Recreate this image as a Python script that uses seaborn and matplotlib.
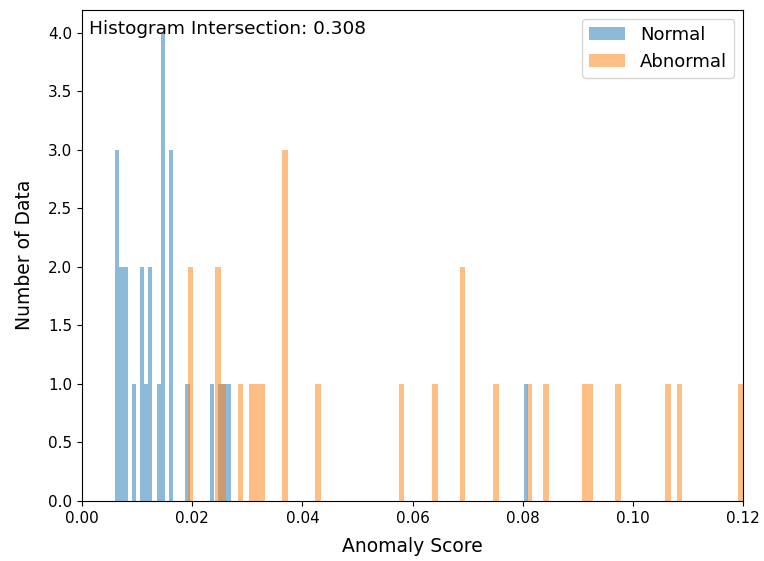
import matplotlib
matplotlib.use("Agg")
import matplotlib.pyplot as plt
import seaborn as sns

# Anomaly scores for the two classes
normal_scores = [
    0.00605, 0.00631, 0.00662, 0.00709, 0.00728, 0.00781, 0.00802, 0.00941,
    0.01079, 0.01101, 0.01166, 0.01232, 0.01251, 0.01390, 0.01447, 0.01462,
    0.01475, 0.01489, 0.01598, 0.01614, 0.01630, 0.01915, 0.02364, 0.02513,
    0.02588, 0.02663, 0.08089,
]
abnormal_scores = [
    0.01916, 0.01973, 0.02448, 0.02492, 0.02571, 0.02874, 0.03076, 0.03176,
    0.03277, 0.03645, 0.03681, 0.03712, 0.04286, 0.05798, 0.06403, 0.06884,
    0.06931, 0.07513, 0.08118, 0.08420, 0.09126, 0.09227, 0.09731, 0.10639,
    0.10840, 0.12000,
]
class_labels = ["Normal", "Abnormal"]
intersection = 0.308

fig, ax = plt.subplots(figsize=(7.64, 5.61), dpi=100)
fig.subplots_adjust(left=0.1073, right=0.9729, top=0.983, bottom=0.107)

sns.histplot(x=normal_scores, bins=100, color="#1f77b4", alpha=0.5,
             linewidth=0, label=class_labels[0], ax=ax)
sns.histplot(x=abnormal_scores, bins=100, color="#ff7f0e", alpha=0.5,
             linewidth=0, label=class_labels[1], ax=ax)

ax.set_xlim(0, 0.12)
ax.tick_params(labelsize=11)
ax.set_xlabel("Anomaly Score", fontsize=13.5, labelpad=8)
ax.set_ylabel("Number of Data", fontsize=13.5, labelpad=10)
ax.text(0.01, 0.95, f"Histogram Intersection: {intersection:.3f}",
        transform=ax.transAxes, ha="left", fontsize=13.3)
ax.legend(loc="upper right", fontsize=13)

fig.savefig("out.png", dpi=100)
